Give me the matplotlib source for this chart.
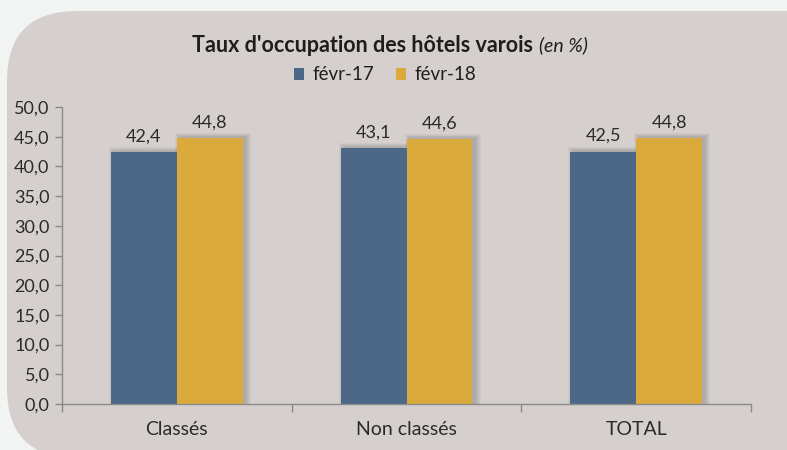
import matplotlib
matplotlib.use("Agg")
import matplotlib.pyplot as plt
from matplotlib.patches import FancyBboxPatch, Rectangle
import numpy as np

categories = ["Classés", "Non classés", "TOTAL"]
series_names = ["févr-17", "févr-18"]
values_17 = [42.4, 43.1, 42.5]
values_18 = [44.8, 44.6, 44.8]
yticks = [0, 5, 10, 15, 20, 25, 30, 35, 40, 45, 50]

colors = ["#4D6886", "#DBAA3C"]
FONT = ["Lato", "DejaVu Sans"]
plt.rcParams["font.family"] = FONT

W, H = 787, 450
fig = plt.figure(figsize=(W / 100, H / 100), dpi=100)
fig.patch.set_facecolor("#F2F3F3")

# background panel
bg = fig.add_axes([0, 0, 1, 1])
bg.set_xlim(0, W)
bg.set_ylim(H, 0)
bg.axis("off")
bg.add_patch(FancyBboxPatch((7 + 70, 11 + 70), 800 - 70, 447 - 140,
                            boxstyle="round,pad=70", facecolor="#D5D0CD",
                            edgecolor="none"))

ax = fig.add_axes([62 / W, 1 - 404 / H, (751 - 62) / W, (404 - 107) / H])
ax.patch.set_alpha(0)

x = np.arange(len(categories))
bw = 0.287
series = [values_17, values_18]
offsets = [-bw / 2, bw / 2]

# soft shadows
for vals, off in zip(series, offsets):
    for xi, v in zip(x, vals):
        for k in range(6):
            e = 0.0045 * k
            ey = 0.12 * k
            ax.add_patch(Rectangle((xi + off - bw / 2 + 0.014 - e, -ey),
                                   bw + 2 * e, v + 0.2 + 2 * ey,
                                   facecolor="#3A3A3A", alpha=0.045,
                                   edgecolor="none", zorder=1))

for i, (vals, off) in enumerate(zip(series, offsets)):
    ax.bar(x + off, vals, width=bw, color=colors[i], zorder=2,
           label=series_names[i])
    for xi, v in zip(x, vals):
        ax.text(xi + off, v + 1.3, f"{v:.1f}".replace(".", ","),
                ha="center", va="bottom", fontsize=13, color="#2B2B2B")

ax.set_xlim(-0.5, 2.5)
ax.set_ylim(0, 50)
ax.set_yticks(yticks)
ax.set_yticklabels([f"{t:.1f}".replace(".", ",") for t in yticks],
                   fontsize=13, color="#2B2B2B")
ax.set_xticks(x)
ax.set_xticklabels(categories, fontsize=14, color="#2B2B2B")
ax.tick_params(axis="x", length=0, pad=12)
ax.set_xticks([-0.5, 0.5, 1.5, 2.5], minor=True)
ax.tick_params(axis="x", which="minor", length=6, color="#8A8A8A", width=1)
ax.tick_params(axis="y", length=5, color="#8A8A8A", width=1, pad=4)
for s in ["top", "right"]:
    ax.spines[s].set_visible(False)
for s in ["left", "bottom"]:
    ax.spines[s].set_color("#8A8A8A")
    ax.spines[s].set_linewidth(1)

# title
t1 = fig.text(0, 1 - 45 / H, "Taux d'occupation des hôtels varois ",
              fontsize=15.5, fontweight="bold", color="#1E1E1E", va="center")
t2 = fig.text(0, 1 - 45 / H, "(en %)", fontsize=14, style="italic",
              color="#1E1E1E", va="center")
fig.canvas.draw()
r = fig.canvas.get_renderer()
w1 = t1.get_window_extent(r).width
w2 = t2.get_window_extent(r).width
start = 390 - (w1 + w2) / 2
t1.set_x(start / W)
t2.set_x((start + w1) / W)

leg = fig.legend(loc="center", bbox_to_anchor=(385 / W, 1 - 75 / H), ncol=2,
                 frameon=False, fontsize=13.5, handlelength=0.55,
                 handleheight=0.55, handletextpad=0.45, columnspacing=1.15)
for txt in leg.get_texts():
    txt.set_color("#1E1E1E")

fig.savefig("out.png", dpi=100, facecolor=fig.get_facecolor())
